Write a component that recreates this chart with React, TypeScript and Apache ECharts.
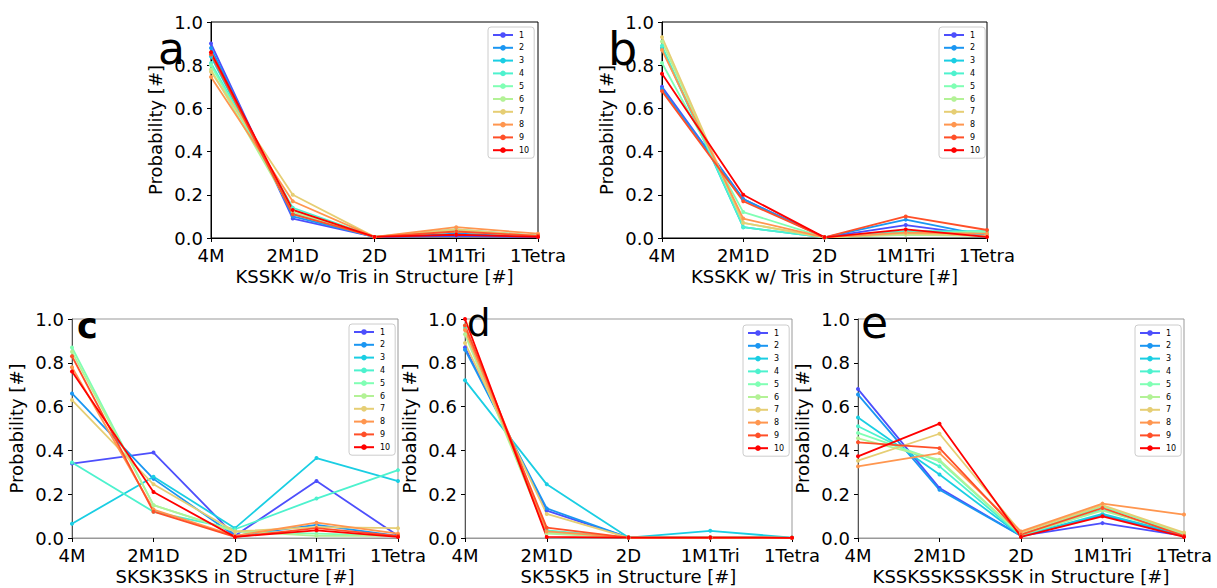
import React, { useEffect, useRef } from "react";
import * as echarts from "echarts";

const categories = ["4M", "2M1D", "2D", "1M1Tri", "1Tetra"];
const seriesNames = ["1", "2", "3", "4", "5", "6", "7", "8", "9", "10"];
const yTicks = [0, 0.2, 0.4, 0.6, 0.8, 1.0];
const colors = ["#4d4ffc", "#1a96f2", "#1acee3", "#4df2ce", "#80ffb4", "#b3f296", "#e6ce74", "#ff964f", "#ff4f28", "#ff0000"];

const panelLetters = ["a", "b", "c", "d", "e"];
const xNames = [
  "KSSKK w/o Tris in Structure [#]",
  "KSSKK w/ Tris in Structure [#]",
  "SKSK3SKS in Structure [#]",
  "SK5SK5 in Structure [#]",
  "KSSKSSKSSKSSK in Structure [#]",
];

// values per series (1..10), per category (4M, 2M1D, 2D, 1M1Tri, 1Tetra)
const panelA = [
  [0.90, 0.09, 0.005, 0.01, 0.005],
  [0.88, 0.10, 0.005, 0.02, 0.01],
  [0.84, 0.11, 0.005, 0.03, 0.01],
  [0.81, 0.14, 0.005, 0.04, 0.01],
  [0.80, 0.13, 0.005, 0.035, 0.01],
  [0.78, 0.12, 0.005, 0.03, 0.01],
  [0.77, 0.20, 0.005, 0.04, 0.01],
  [0.745, 0.17, 0.005, 0.05, 0.02],
  [0.85, 0.11, 0.005, 0.03, 0.01],
  [0.86, 0.13, 0.005, 0.015, 0.005],
];
const panelB = [
  [0.70, 0.18, 0.003, 0.06, 0.01],
  [0.69, 0.18, 0.003, 0.085, 0.01],
  [0.88, 0.05, 0.003, 0.03, 0.03],
  [0.89, 0.05, 0.003, 0.03, 0.03],
  [0.81, 0.12, 0.003, 0.02, 0.03],
  [0.91, 0.07, 0.003, 0.015, 0.01],
  [0.93, 0.07, 0.003, 0.02, 0.01],
  [0.87, 0.09, 0.003, 0.025, 0.02],
  [0.68, 0.17, 0.003, 0.10, 0.037],
  [0.76, 0.20, 0.003, 0.04, 0.005],
];
const panelC = [
  [0.34, 0.39, 0.01, 0.26, 0.01],
  [0.66, 0.27, 0.01, 0.06, 0.01],
  [0.065, 0.28, 0.045, 0.365, 0.26],
  [0.345, 0.12, 0.04, 0.18, 0.31],
  [0.87, 0.15, 0.03, 0.02, 0.01],
  [0.85, 0.15, 0.03, 0.01, 0.01],
  [0.63, 0.245, 0.03, 0.05, 0.045],
  [0.78, 0.13, 0.01, 0.07, 0.02],
  [0.83, 0.12, 0.005, 0.045, 0.01],
  [0.76, 0.21, 0.005, 0.035, 0.005],
];
const panelD = [
  [0.87, 0.125, 0.002, 0.002, 0.001],
  [0.86, 0.135, 0.002, 0.002, 0.001],
  [0.72, 0.245, 0.002, 0.033, 0.002],
  [0.96, 0.035, 0.002, 0.002, 0.001],
  [0.97, 0.025, 0.002, 0.002, 0.001],
  [0.93, 0.02, 0.002, 0.002, 0.001],
  [0.89, 0.11, 0.002, 0.002, 0.001],
  [0.95, 0.03, 0.002, 0.002, 0.001],
  [0.97, 0.047, 0.002, 0.002, 0.001],
  [1.0, 0.005, 0.002, 0.002, 0.001],
];
const panelE = [
  [0.68, 0.228, 0.01, 0.068, 0.01],
  [0.655, 0.22, 0.01, 0.105, 0.01],
  [0.55, 0.29, 0.01, 0.11, 0.015],
  [0.51, 0.327, 0.01, 0.13, 0.015],
  [0.48, 0.35, 0.015, 0.145, 0.02],
  [0.455, 0.357, 0.015, 0.125, 0.02],
  [0.353, 0.476, 0.025, 0.15, 0.025],
  [0.327, 0.388, 0.03, 0.157, 0.107],
  [0.437, 0.41, 0.015, 0.137, 0.01],
  [0.373, 0.522, 0.005, 0.099, 0.005],
];

const panels = [panelA, panelB, panelC, panelD, panelE];

const grids = [
  { left: 211, top: 22, width: 327, height: 216 },
  { left: 662, top: 22, width: 325, height: 216 },
  { left: 72, top: 319, width: 326, height: 219 },
  { left: 465, top: 319, width: 327, height: 219 },
  { left: 858, top: 319, width: 326, height: 219 },
];
const legendPos = [
  { left: 488, top: 27 },
  { left: 939, top: 27 },
  { left: 349, top: 324 },
  { left: 743, top: 325 },
  { left: 1135, top: 325 },
];
const letterStyle = [
  { x: 158, y: 48, size: 44, weight: "normal" },
  { x: 608, y: 49, size: 46, weight: "normal" },
  { x: 77, y: 326, size: 35, weight: "bold" },
  { x: 467, y: 323, size: 37, weight: "normal" },
  { x: 861, y: 322, size: 44, weight: "normal" },
];

const FONT = "DejaVu Sans";

export default function App() {
  const ref = useRef<HTMLDivElement>(null);
  useEffect(() => {
    if (!ref.current) return;
    const chart = echarts.init(ref.current, undefined, { renderer: "svg" });
    const boxed = (i: number) => i < 2;
    const option: any = {
      animation: false,
      backgroundColor: "#ffffff",
      textStyle: { fontFamily: FONT },
      grid: grids.map((g, i) => ({
        ...g,
        show: true,
        borderColor: boxed(i) ? "#000" : "#999",
        borderWidth: 1,
        backgroundColor: "transparent",
      })),
      xAxis: grids.map((_, i) => ({
        type: "category",
        gridIndex: i,
        data: categories,
        boundaryGap: false,
        name: xNames[i],
        nameLocation: "middle",
        nameGap: 29,
        nameTextStyle: { fontSize: 18, color: "#000", fontFamily: FONT },
        axisLine: { show: true, lineStyle: { color: boxed(i) ? "#000" : "#999", width: 1 } },
        axisTick: { show: true, inside: false, length: 4, alignWithLabel: true, lineStyle: { color: "#000" } },
        axisLabel: { interval: 0, fontSize: 18, color: "#000", margin: 8, fontFamily: FONT },
        splitLine: { show: false },
      })),
      yAxis: grids.map((_, i) => ({
        type: "value",
        gridIndex: i,
        min: yTicks[0],
        max: yTicks[yTicks.length - 1],
        interval: 0.2,
        name: "Probability [#]",
        nameLocation: "middle",
        nameGap: 47,
        nameTextStyle: { fontSize: 18, color: "#000", fontFamily: FONT },
        axisLine: { show: true, lineStyle: { color: boxed(i) ? "#000" : "#555", width: 1 } },
        axisTick: { show: true, inside: false, length: 4, lineStyle: { color: "#000" } },
        axisLabel: { fontSize: 18, color: "#000", margin: 8, fontFamily: FONT, formatter: (v: number) => v.toFixed(1) },
        splitLine: { show: false },
      })),
      legend: legendPos.map((p) => ({
        ...p,
        orient: "vertical",
        data: seriesNames,
        itemWidth: 20,
        itemHeight: 7,
        itemGap: 4.8,
        padding: [4, 5, 4, 4],
        backgroundColor: "#fff",
        borderColor: "#ccc",
        borderWidth: 1,
        borderRadius: 3,
        textStyle: { fontSize: 8, color: "#000", fontFamily: FONT, padding: [0, 0, 0, 1] },
        selectedMode: false,
      })),
      series: panels.flatMap((panel, pi) =>
        panel.map((vals, si) => ({
          type: "line",
          name: seriesNames[si],
          xAxisIndex: pi,
          yAxisIndex: pi,
          data: vals,
          symbol: "circle",
          symbolSize: 4,
          showSymbol: true,
          color: colors[si],
          lineStyle: { width: 1.8, color: colors[si] },
          itemStyle: { color: colors[si] },
          emphasis: { disabled: true },
          z: 2,
        }))
      ),
      graphic: panelLetters.map((l, i) => ({
        type: "text",
        x: letterStyle[i].x,
        y: letterStyle[i].y,
        z: 100,
        style: {
          text: l,
          fontSize: letterStyle[i].size,
          fontWeight: letterStyle[i].weight,
          fontFamily: FONT,
          fill: "#000",
          verticalAlign: "middle",
          align: "left",
        },
      })),
    };
    chart.setOption(option);
    return () => chart.dispose();
  }, []);
  return <div ref={ref} style={{ position: "absolute", left: 0, top: 0, width: 1217, height: 588 }} />;
}
